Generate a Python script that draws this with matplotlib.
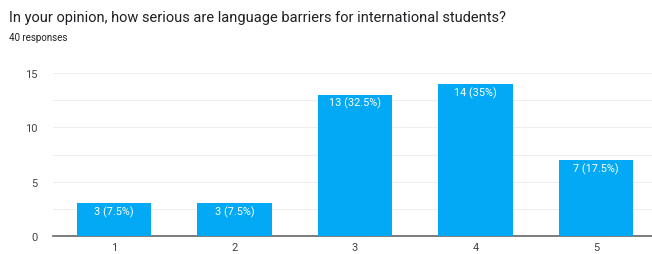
import matplotlib.pyplot as plt

categories = ['1', '2', '3', '4', '5']
counts = [3, 3, 13, 14, 7]
total = 40

plt.rcParams['font.family'] = ['Roboto', 'DejaVu Sans']

fig = plt.figure(figsize=(6.52, 2.55), dpi=100)
ax = fig.add_axes([53 / 652, 18 / 255, (652 - 53) / 652, 163 / 255])

x = list(range(len(categories)))
ax.bar(x, counts, width=0.62, color='#03a9f4', zorder=3)

for xi, c in zip(x, counts):
    pct = c / total * 100
    pct_txt = f'{pct:g}'
    ax.text(xi, c - 0.2, f'{c} ({pct_txt}%)', ha='center', va='top',
            color='white', fontsize=7.8, zorder=4)

ax.set_xlim(-0.506, 4.465)
ax.set_ylim(0, 15)
ax.set_yticks([0, 5, 10, 15])
ax.set_yticks([2.5, 7.5, 12.5], minor=True)
ax.set_xticks(x)
ax.set_xticklabels(categories)
ax.grid(axis='y', which='both', color='#eeeeee', linewidth=0.8, zorder=0)
ax.tick_params(axis='both', which='both', length=0, labelsize=8, colors='#444444')
ax.tick_params(axis='y', pad=11)
ax.tick_params(axis='x', pad=4)
for s in ['top', 'right', 'left']:
    ax.spines[s].set_visible(False)
ax.spines['bottom'].set_color('#666666')
ax.spines['bottom'].set_linewidth(1.2)

fig.text(9 / 652, 1 - 18 / 255, 'In your opinion, how serious are language barriers for international students?',
         fontsize=10.5, color='#202124', va='center')
fig.text(9 / 652, 1 - 38 / 255, '40 responses', fontsize=7, color='#202124', va='center')

fig.savefig('out.png', dpi=100)
